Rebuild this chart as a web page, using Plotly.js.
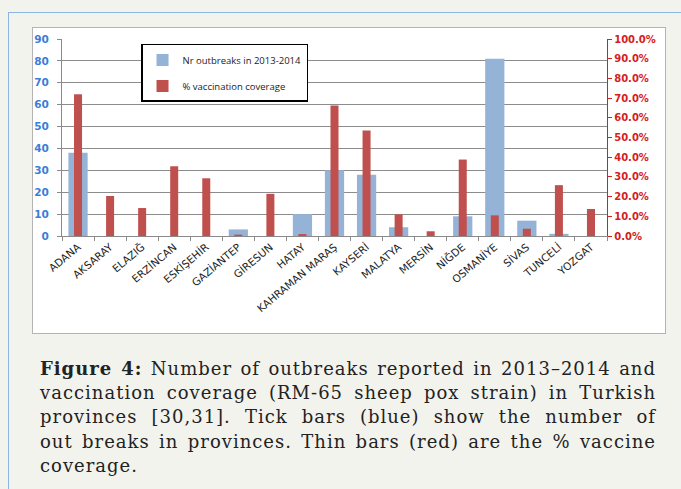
<!DOCTYPE html>
<html>
<head>
<meta charset="utf-8">
<script src="https://cdn.plot.ly/plotly-3.0.1.min.js"></script>
<style>
  html, body { margin:0; padding:0; }
  body { width:681px; height:489px; background:#f3f3ee; position:relative; overflow:hidden; }
  #frame { position:absolute; left:8px; top:12px; width:700px; height:500px;
           border-left:1.5px solid #8db4e2; border-top:1.5px solid #8db4e2; }
  #box { position:absolute; left:32px; top:27px; width:632px; height:305px;
         background:#ffffff; border:1px solid #b4b4b4; }
  #chart { position:absolute; left:0; top:0; width:681px; height:489px; }
  #caption { position:absolute; left:40px; top:357px; width:616px;
             font-family:"DejaVu Serif", serif; font-size:18px; line-height:24.2px;
             color:#222; letter-spacing:1px; }
  #caption .l { text-align:justify; text-align-last:justify; white-space:nowrap; }
  #caption .last { text-align:left; }
</style>
</head>
<body>
<div id="frame"></div>
<div id="box"></div>
<div id="chart"></div>
<div id="caption">
  <div class="l" style="white-space:normal"><b>Figure 4:</b> Number of outbreaks reported in 2013–2014 and</div>
  <div class="l" style="white-space:normal">vaccination coverage (RM-65 sheep pox strain) in Turkish</div>
  <div class="l" style="white-space:normal">provinces [30,31]. Tick bars (blue) show the number of</div>
  <div class="l" style="white-space:normal">out breaks in provinces. Thin bars (red) are the % vaccine</div>
  <div class="last">coverage.</div>
</div>
<script>
const provinces = ["ADANA","AKSARAY","ELAZIĞ","ERZİNCAN","ESKİŞEHİR","GAZİANTEP","GİRESUN","HATAY",
  "KAHRAMAN MARAŞ","KAYSERİ","MALATYA","MERSİN","NİĞDE","OSMANİYE","SİVAS","TUNCELİ","YOZGAT"];
const outbreaks = [38,0,0,0,0,3,0,10,30,28,4,0,9,81,7,1,0];
const vaccination = [0.72,0.203,0.142,0.354,0.293,0.007,0.214,0.01,0.663,0.536,0.11,0.024,0.388,0.105,0.037,0.258,0.137];

const traces = [
  {type:'bar', x:provinces, y:outbreaks, name:'Nr outbreaks in 2013-2014',
   marker:{color:'#95b3d7'}, width:0.6, legendgroup:'a', hoverinfo:'x+y'},
  {type:'bar', x:provinces, y:vaccination, name:'% vaccination coverage', yaxis:'y2',
   marker:{color:'#c0504d'}, width:0.25, legendgroup:'b', hoverinfo:'x+y'}
];

const layout = {
  width:681, height:489,
  margin:{l:62, r:74, t:39, b:253, pad:0},
  paper_bgcolor:'rgba(0,0,0,0)', plot_bgcolor:'rgba(0,0,0,0)',
  barmode:'overlay',
  showlegend:true,
  legend:{x:0.145, y:0.975, xanchor:'left', yanchor:'top', bgcolor:'#ffffff',
          bordercolor:'#000000', borderwidth:1.5, traceorder:'grouped', tracegroupgap:7,
          itemwidth:30,
          font:{family:'"Open Sans", "DejaVu Sans", sans-serif', size:9.5, color:'#222'}},
  xaxis:{type:'category', tickangle:-40, automargin:false,
         tickfont:{family:'"DejaVu Sans", sans-serif', size:10.5, color:'#222'},
         ticks:'outside', tickson:'boundaries', ticklen:4, tickcolor:'#8a8a8a',
         showline:true, linecolor:'#8a8a8a', linewidth:1, showgrid:false, fixedrange:true},
  yaxis:{range:[0,90], dtick:10, automargin:false, showgrid:true, gridcolor:'#8c8c8c', gridwidth:1,
         showline:true, linecolor:'#8a8a8a', ticks:'outside', ticklen:4, tickcolor:'#8a8a8a',
         zeroline:false, ticklabelstandoff:6,
         tickfont:{family:'"DejaVu Sans", sans-serif', size:10.5, color:'#3b7dd8', weight:'bold'}},
  yaxis2:{range:[0,1], dtick:0.1, tickformat:'.1%', overlaying:'y', side:'right', automargin:false,
          showgrid:false, zeroline:false, showline:true, linecolor:'#d62020', linewidth:1.2,
          ticks:'outside', ticklen:4, tickcolor:'#d62020',
          tickfont:{family:'"DejaVu Sans", sans-serif', size:10, color:'#d62020', weight:'bold'}}
};

Plotly.newPlot('chart', traces, layout, {displayModeBar:false, staticPlot:true});
</script>
</body>
</html>
